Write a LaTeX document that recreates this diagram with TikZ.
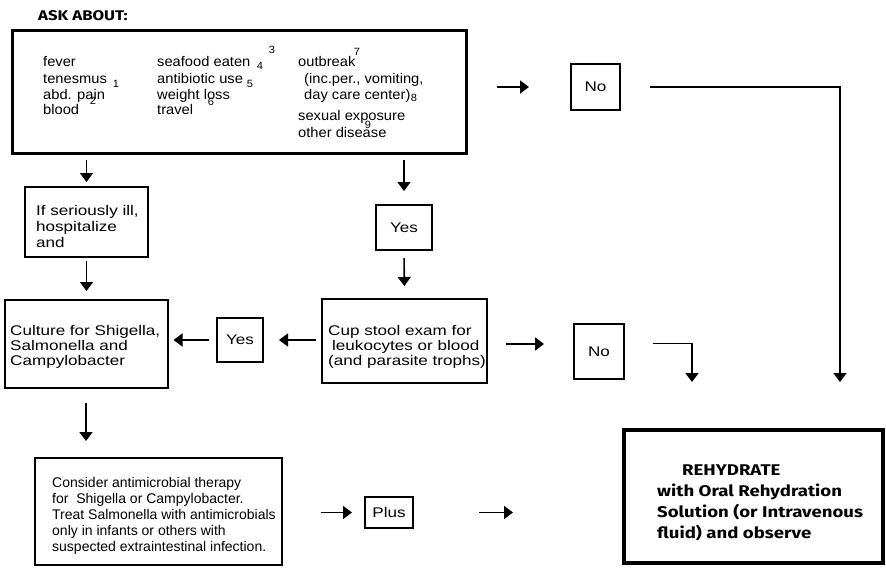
\documentclass[tikz,border=0pt]{standalone}
\usepackage{fontspec}
\setmainfont{Liberation Sans}
\newfontfamily\wideA{Liberation Sans}[FakeStretch=1.05]
\newfontfamily\wideB{Liberation Sans}[FakeStretch=1.22]
\newfontfamily\chic{Fira Sans}[UprightFont={* Bold}, FakeStretch=1.2]
\usetikzlibrary{arrows.meta}
\tikzset{
  box/.style={draw, line width=2pt, inner sep=0pt},
  thickbox/.style={draw, line width=4pt, inner sep=0pt},
  txt/.style={inner sep=0pt, anchor=base west, font=\wideA\fontsize{14}{16}\selectfont},
  ktxt/.style={inner sep=0pt, anchor=base west, font=\fontsize{14}{16}\selectfont},
  wtxt/.style={inner sep=0pt, anchor=base west, font=\wideB\fontsize{14}{16}\selectfont},
  ctxt/.style={font=\wideB\fontsize{14}{16}\selectfont},
  num/.style={inner sep=0pt, font=\wideA\fontsize{10.5}{12}\selectfont},
  head/.style={inner sep=0pt, anchor=base west, font=\chic\fontsize{15.5}{18}\selectfont},
  arr/.style={line width=1.6pt, -{Triangle[width=13pt,length=9pt]}},
}
\newcommand\tline[4]{\node[txt] (#1) at (#2,#3) {#4};}
\newcommand\kline[4]{\node[ktxt] (#1) at (#2,#3) {#4};}
\newcommand\wline[4]{\node[wtxt] (#1) at (#2,#3) {#4};}
\newcommand\headline[4]{\node[head] (#1) at (#2,#3) {#4};}
\begin{document}
\begin{tikzpicture}[x=1pt,y=-1pt]
\useasboundingbox (0,0) rectangle (886,571);
\fill[white] (0,0) rectangle (886,571);

% title
\node[head, font=\chic\fontsize{14}{16}\selectfont] (ask) at (38,20) {ASK ABOUT:};

% boxes
\node[box, line width=3pt, minimum width=454pt, minimum height=123pt] (top) at (239,91.5) {};
\node[box, minimum width=123pt, minimum height=70pt] (ill) at (86.5,222) {};
\node[box, minimum width=56pt, minimum height=45pt, ctxt] (yes1) at (404,227.5) {Yes};
\node[box, minimum width=163pt, minimum height=88pt] (culture) at (86,344) {};
\node[box, minimum width=165pt, minimum height=84pt] (cup) at (404.5,341) {};
\node[box, minimum width=46pt, minimum height=44pt, ctxt] (yes2) at (240,340) {Yes};
\node[box, minimum width=49pt, minimum height=46pt, ctxt] (no1) at (595.5,87) {No};
\node[box, minimum width=50pt, minimum height=55pt, ctxt] (no2) at (599,351.5) {No};
\node[box, minimum width=247pt, minimum height=107pt] (consider) at (158.5,511.5) {};
\node[box, minimum width=48pt, minimum height=31pt, ctxt] (plus) at (389,512.5) {Plus};
\node[thickbox, minimum width=259pt, minimum height=133pt] (rehyd) at (753.5,496.5) {};

% top box text
\tline{t1}{43}{66}{fever}
\tline{t2}{43}{83}{tenesmus}
\tline{t3}{43}{99}{abd. pain}
\tline{t4}{43}{114}{blood}
\tline{t5}{157}{66}{seafood eaten}
\tline{t6}{157}{83}{antibiotic use}
\tline{t7}{157}{99}{weight loss}
\tline{t8}{157}{114}{travel}
\tline{t9}{298}{66}{outbreak}
\tline{t10}{304}{83}{(inc.per., vomiting,}
\tline{t11}{304}{99}{day care center)}
\tline{t12}{298}{120}{sexual exposure}
\tline{t13}{298}{137}{other disease}
\node[num] (n1) at (116,84) {1};
\node[num] (n2) at (93,101) {2};
\node[num] (n3) at (272,50) {3};
\node[num] (n4) at (260,66) {4};
\node[num] (n5) at (250,84) {5};
\node[num] (n6) at (211,102) {6};
\node[num] (n7) at (357,52) {7};
\node[num] (n8) at (414,98) {8};
\node[num] (n9) at (368,125) {9};

% other box texts
\wline{i1}{36}{215}{If seriously ill,}
\wline{i2}{36}{231}{hospitalize}
\wline{i3}{36}{247}{and}
\wline{c1}{10}{335}{Culture for Shigella,}
\wline{c2}{10}{350}{Salmonella and}
\wline{c3}{10}{365}{Campylobacter}
\wline{u1}{328}{335}{Cup stool exam for}
\wline{u2}{332}{350}{leukocytes or blood}
\wline{u3}{328}{365}{(and parasite trophs)}
\kline{k1}{52}{487}{Consider antimicrobial therapy}
\kline{k2}{52}{503}{for\ \ Shigella or Campylobacter.}
\kline{k3}{52}{519}{Treat Salmonella with antimicrobials}
\kline{k4}{52}{535}{only in infants or others with}
\kline{k5}{52}{551}{suspected extraintestinal infection.}
\headline{r1}{682}{475}{REHYDRATE}
\headline{r2}{657}{496}{with Oral Rehydration}
\headline{r3}{657}{517}{Solution (or Intravenous}
\headline{r4}{657}{538}{fluid) and observe}

% free ends
\coordinate (n1end) at (840,382);
\coordinate (n2end) at (692,382);

% connectors
\draw[arr, shorten <=29pt, shorten >=41pt] (top.east |- no1.west) -- (no1.west);
\draw[arr, shorten <=29pt] (no1.east) -| (n1end);
\draw[arr, shorten <=5pt, shorten >=4pt] (ill.north |- top.south) -- (ill.north);
\draw[arr, shorten <=5pt, shorten >=13pt] (yes1.north |- top.south) -- (yes1.north);
\draw[arr, shorten <=7pt, shorten >=12pt] (yes1.south) -- (cup.north);
\draw[arr, shorten <=3pt, shorten >=8pt] (ill.south) -- (ill.south |- culture.north);
\draw[arr, shorten <=5pt, shorten >=15pt] (cup.west |- yes2.east) -- (yes2.east);
\draw[arr, shorten <=7pt, shorten >=5pt] (yes2.west) -- (culture.east |- yes2.west);
\draw[arr, shorten <=14pt, shorten >=16pt] (culture.south) -- (culture.south |- consider.north);
\draw[arr, shorten <=18pt, shorten >=29pt] ([yshift=-3pt]cup.east) -- ([yshift=-3pt]cup.east -| no2.west);
\draw[arr, shorten <=28pt] ([yshift=8pt]no2.east) -| (n2end);
\draw[arr, shorten <=38pt, shorten >=12pt] (consider.east |- plus.west) -- (plus.west);
\draw[arr, shorten <=65pt, shorten >=109pt] (plus.east) -- (plus.east -| rehyd.west);
\end{tikzpicture}
\end{document}
